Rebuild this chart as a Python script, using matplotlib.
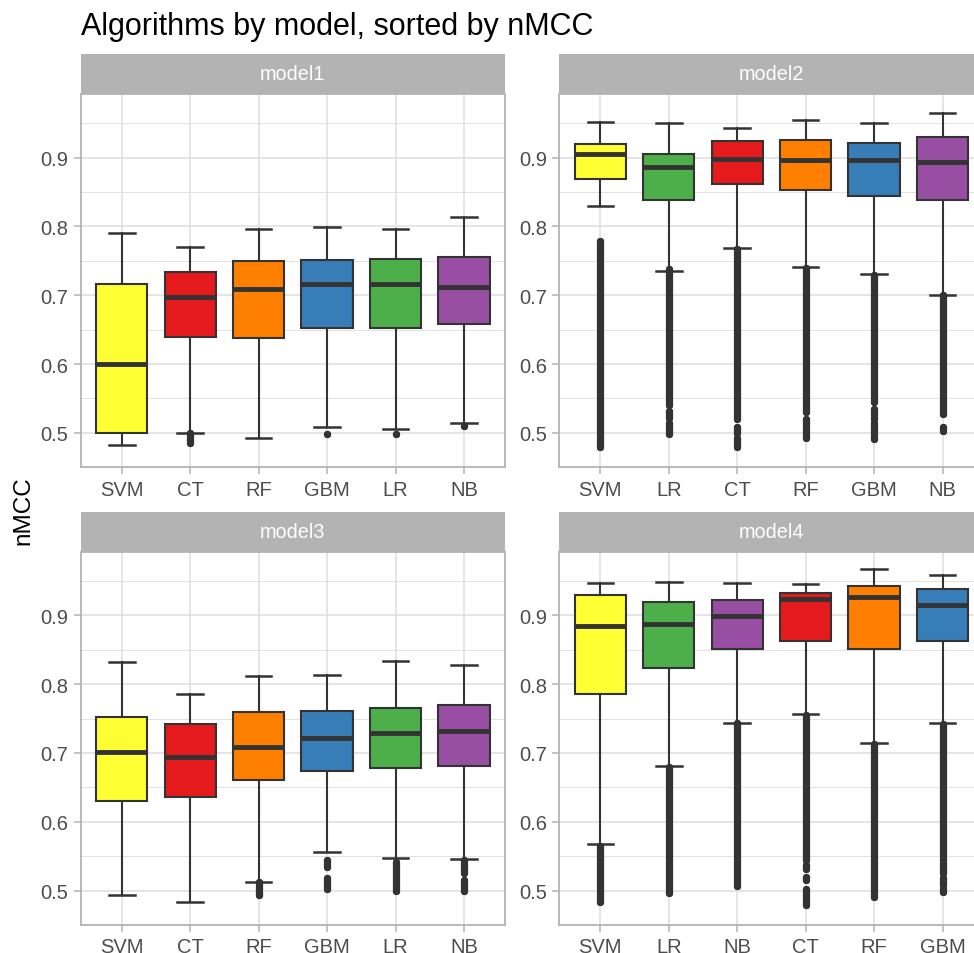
import numpy as np
import matplotlib.pyplot as plt
from matplotlib.patches import Rectangle

plt.rcParams['font.family'] = ['Liberation Sans', 'DejaVu Sans']

title = "Algorithms by model, sorted by nMCC"
ylabel = "nMCC"
models = ["model1", "model2", "model3", "model4"]

# per model: category order, box stats, outlier runs (lo, hi)
m1_order = ["SVM", "CT", "RF", "GBM", "LR", "NB"]
m1_whislo = [0.483, 0.500, 0.493, 0.508, 0.505, 0.515]
m1_q1 = [0.500, 0.640, 0.638, 0.652, 0.652, 0.658]
m1_med = [0.600, 0.698, 0.709, 0.717, 0.716, 0.712]
m1_q3 = [0.717, 0.734, 0.750, 0.751, 0.752, 0.756]
m1_whishi = [0.790, 0.770, 0.796, 0.799, 0.796, 0.814]
m1_out = [[], [(0.485, 0.500)], [], [(0.499, 0.499)], [(0.499, 0.499)], [(0.510, 0.510)]]

m2_order = ["SVM", "LR", "CT", "RF", "GBM", "NB"]
m2_whislo = [0.830, 0.736, 0.769, 0.741, 0.731, 0.700]
m2_q1 = [0.869, 0.838, 0.862, 0.853, 0.844, 0.839]
m2_med = [0.905, 0.887, 0.898, 0.896, 0.896, 0.894]
m2_q3 = [0.920, 0.906, 0.924, 0.926, 0.922, 0.930]
m2_whishi = [0.952, 0.950, 0.943, 0.954, 0.951, 0.965]
m2_out = [[(0.479, 0.779)],
          [(0.540, 0.738), (0.522, 0.532), (0.499, 0.515)],
          [(0.520, 0.767), (0.500, 0.508), (0.480, 0.493)],
          [(0.530, 0.740), (0.515, 0.520), (0.493, 0.510)],
          [(0.545, 0.730), (0.520, 0.535), (0.491, 0.515)],
          [(0.530, 0.700), (0.527, 0.527), (0.503, 0.509)]]

m3_order = ["SVM", "CT", "RF", "GBM", "LR", "NB"]
m3_whislo = [0.494, 0.483, 0.513, 0.556, 0.548, 0.546]
m3_q1 = [0.630, 0.636, 0.661, 0.674, 0.678, 0.681]
m3_med = [0.701, 0.694, 0.708, 0.722, 0.729, 0.732]
m3_q3 = [0.752, 0.742, 0.760, 0.761, 0.766, 0.770]
m3_whishi = [0.832, 0.786, 0.812, 0.813, 0.833, 0.828]
m3_out = [[], [], [(0.494, 0.512)],
          [(0.535, 0.545), (0.502, 0.518)],
          [(0.499, 0.541)],
          [(0.525, 0.545), (0.499, 0.515)]]

m4_order = ["SVM", "LR", "NB", "CT", "RF", "GBM"]
m4_whislo = [0.568, 0.681, 0.744, 0.756, 0.714, 0.743]
m4_q1 = [0.785, 0.824, 0.851, 0.862, 0.851, 0.862]
m4_med = [0.884, 0.887, 0.899, 0.924, 0.926, 0.915]
m4_q3 = [0.930, 0.919, 0.922, 0.933, 0.943, 0.939]
m4_whishi = [0.947, 0.948, 0.947, 0.945, 0.967, 0.959]
m4_out = [[(0.484, 0.565)],
          [(0.497, 0.680)],
          [(0.506, 0.744)],
          [(0.560, 0.755), (0.545, 0.557), (0.532, 0.537), (0.516, 0.520), (0.479, 0.503)],
          [(0.490, 0.713)],
          [(0.545, 0.742), (0.525, 0.540), (0.508, 0.518), (0.498, 0.503)]]

colors = {"CT": "#E41A1C", "GBM": "#377EB8", "LR": "#4DAF4A",
          "NB": "#984EA3", "RF": "#FF7F00", "SVM": "#FFFF33"}

panels = [
    (m1_order, m1_whislo, m1_q1, m1_med, m1_q3, m1_whishi, m1_out),
    (m2_order, m2_whislo, m2_q1, m2_med, m2_q3, m2_whishi, m2_out),
    (m3_order, m3_whislo, m3_q1, m3_med, m3_q3, m3_whishi, m3_out),
    (m4_order, m4_whislo, m4_q1, m4_med, m4_q3, m4_whishi, m4_out),
]

W, H = 974, 954
fig = plt.figure(figsize=(W / 100, H / 100), dpi=100)

# panel boxes in pixels: left, top, right, bottom
px = [(80.7, 95, 505, 468.3), (559.3, 95, 983.6, 468.3),
      (80.7, 552.7, 505, 926), (559.3, 552.7, 983.6, 926)]
strip_h = 40

dark = "#333333"
grid_col = "#DEDEDE"
border = "#B3B3B3"
dot = 5.2

for (name, data, (l, t, r, b)) in zip(models, panels, px):
    order, lo, q1, med, q3, hi, outs = data
    ax = fig.add_axes([l / W, (H - b) / H, (r - l) / W, (b - t) / H])
    pos = np.arange(1, len(order) + 1)

    stats = []
    for i in range(len(order)):
        stats.append(dict(med=med[i], q1=q1[i], q3=q3[i],
                          whislo=lo[i], whishi=hi[i], fliers=[]))
    bp = ax.bxp(stats, positions=pos, widths=0.75, capwidths=0.375,
                patch_artist=True, showfliers=False,
                boxprops=dict(edgecolor=dark, linewidth=1.5),
                medianprops=dict(color=dark, linewidth=3.5, solid_capstyle='butt'),
                whiskerprops=dict(color=dark, linewidth=1.5),
                capprops=dict(color=dark, linewidth=1.8))
    for patch, alg in zip(bp['boxes'], order):
        patch.set_facecolor(colors[alg])
    for art in bp['boxes'] + bp['medians']:
        art.set_zorder(4)

    # outliers: dense runs of points drawn as thick round-capped strokes
    for x, runs in zip(pos, outs):
        for a, c in runs:
            ax.plot([x, x], [a, c], color=dark, linewidth=dot,
                    solid_capstyle='round', marker='o', markersize=dot,
                    markeredgewidth=0, zorder=3)

    ax.set_xlim(0.4, len(order) + 0.6)
    ax.set_ylim(0.4535, 0.9925)
    ax.set_xticks(pos)
    ax.set_xticklabels(order)
    ax.set_yticks([0.5, 0.6, 0.7, 0.8, 0.9])
    ax.set_yticks([0.45, 0.55, 0.65, 0.75, 0.85, 0.95], minor=True)
    ax.tick_params(axis='both', which='major', colors=border, labelcolor="#4D4D4D",
                   labelsize=14.5, length=5, width=1.1, pad=4)
    ax.tick_params(axis='y', which='minor', length=0)
    ax.grid(True, which='major', color=grid_col, linewidth=1.1)
    ax.grid(True, which='minor', axis='y', color=grid_col, linewidth=0.6)
    ax.set_axisbelow(True)
    for sp in ax.spines.values():
        sp.set_color(border)
        sp.set_linewidth(1.3)

    # facet strip
    sh = strip_h / (b - t)
    ax.add_patch(Rectangle((0, 1), 1, sh, transform=ax.transAxes,
                           facecolor=border, edgecolor='none', clip_on=False))
    ax.text(0.5, 1 + sh / 2, name, transform=ax.transAxes, ha='center',
            va='center', color='white', fontsize=14.3)

fig.text(80.7 / W, 1 - 35 / H, title, fontsize=22, ha='left', va='baseline',
         color='black')
fig.text(23 / W, 1 - 510.5 / H, ylabel, fontsize=17.5, rotation=90,
         ha='center', va='center', color='black')

fig.savefig("out.png", dpi=100)
